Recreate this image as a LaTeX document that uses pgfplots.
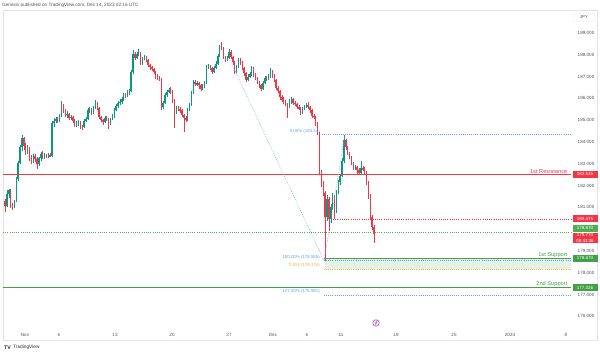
\documentclass[border=0pt]{standalone}
\usepackage{pgfplots}
\pgfplotsset{compat=1.18}
\usepackage{pgfplotstable}
\usepackage{fontspec}
\setmainfont{Liberation Sans}
\definecolor{upc}{HTML}{089981}
\definecolor{dnc}{HTML}{F23645}
\definecolor{resc}{HTML}{F23645}
\definecolor{supc}{HTML}{43A047}
\definecolor{grnbox}{HTML}{4CAF50}
\definecolor{fibc}{HTML}{5FA2F2}
\definecolor{orac}{HTML}{F2B33D}
\definecolor{shade}{HTML}{E3F2E4}
\definecolor{axtxt}{HTML}{50535E}
\definecolor{framec}{HTML}{E0E3EB}
\definecolor{evt}{HTML}{AB47BC}

\pgfplotstableread{
n o h l c
0 181.30 181.40 180.80 181.05
1 181.05 181.80 181.00 181.60
2 181.60 181.85 181.45 181.80
3 181.80 181.85 180.95 181.05
4 181.05 181.20 180.90 181.00
5 181.00 181.35 180.95 181.30
6 181.30 182.40 181.25 182.30
7 182.30 183.15 182.20 183.05
8 183.05 183.85 183.00 183.75
9 183.75 184.30 183.60 184.20
10 184.20 184.25 183.65 183.80
11 183.80 183.95 183.40 183.55
12 183.55 183.85 183.45 183.70
13 183.70 183.75 183.15 183.25
14 183.25 183.40 183.00 183.15
15 183.15 183.45 183.05 183.35
16 183.35 183.45 183.10 183.20
17 183.20 183.30 182.75 183.00
18 183.00 183.30 182.90 183.25
19 183.25 183.55 183.15 183.45
20 183.45 183.60 183.20 183.30
21 183.30 183.50 183.20 183.40
22 183.40 183.45 183.25 183.30
23 183.30 183.50 183.25 183.40
24 183.40 183.50 183.30 183.35
25 183.35 184.95 183.30 184.85
26 184.85 185.10 184.70 184.95
27 184.95 185.15 184.85 185.05
28 185.05 185.15 184.85 184.95
29 184.95 185.30 184.90 185.20
30 185.20 185.90 185.15 185.60
31 185.60 185.75 185.35 185.45
32 185.45 185.50 185.15 185.25
33 185.25 185.40 185.10 185.30
34 185.30 185.35 185.00 185.10
35 185.10 185.25 185.00 185.15
36 185.15 185.20 184.85 184.95
37 184.95 185.05 184.70 184.80
38 184.80 184.95 184.70 184.85
39 184.85 185.00 184.75 184.90
40 184.90 184.95 184.60 184.75
41 184.75 184.80 184.55 184.70
42 184.70 185.05 184.65 184.95
43 184.95 185.15 184.90 185.05
44 185.05 185.55 185.00 185.45
45 185.45 185.60 185.35 185.50
46 185.50 185.55 185.25 185.35
47 185.35 185.65 185.30 185.55
48 185.55 185.95 185.50 185.80
49 185.80 185.85 185.45 185.55
50 185.55 185.60 185.05 185.15
51 185.15 185.20 184.90 185.00
52 185.00 185.05 184.80 184.90
53 184.90 185.20 184.85 185.10
54 185.10 185.20 184.95 185.05
55 185.05 185.10 184.60 184.90
56 184.90 185.10 184.80 185.05
57 185.05 185.30 185.00 185.20
58 185.20 185.55 185.10 185.45
59 185.45 185.75 185.40 185.65
60 185.65 185.90 185.55 185.80
61 185.80 185.95 185.70 185.85
62 185.85 186.05 185.75 185.95
63 185.95 186.25 185.90 186.15
64 186.15 186.25 186.00 186.10
65 186.10 186.40 186.05 186.30
66 186.30 186.45 186.15 186.35
67 186.35 187.30 186.30 187.20
68 187.20 188.20 187.10 188.05
69 188.05 188.15 187.75 187.85
70 187.85 188.15 187.80 188.05
71 188.05 188.25 187.95 188.10
72 188.10 188.15 187.55 187.65
73 187.65 187.90 187.55 187.80
74 187.80 188.00 187.75 187.90
75 187.90 187.95 187.65 187.75
76 187.75 187.80 187.45 187.55
77 187.55 187.60 187.30 187.45
78 187.45 187.50 187.25 187.35
79 187.35 187.40 187.10 187.20
80 187.20 187.25 186.90 187.00
81 187.00 187.10 186.85 186.95
82 186.95 187.05 186.80 186.90
83 186.90 186.95 185.45 185.60
84 185.60 185.90 185.50 185.80
85 185.80 186.25 185.75 186.15
86 186.15 186.40 186.05 186.30
87 186.30 186.50 186.25 186.40
88 186.40 186.50 186.20 186.35
89 186.35 186.40 185.80 185.90
90 185.90 185.95 184.65 185.40
91 185.40 185.65 185.30 185.55
92 185.55 185.65 185.40 185.50
93 185.50 185.60 185.35 185.45
94 185.45 185.50 185.15 185.25
95 185.25 185.30 184.45 185.10
96 185.10 185.20 184.90 185.00
97 185.00 185.55 184.95 185.45
98 185.45 185.80 185.40 185.70
99 185.70 186.35 185.65 186.25
100 186.25 186.85 186.20 186.75
101 186.75 186.85 186.55 186.65
102 186.65 186.80 186.55 186.70
103 186.70 186.75 186.45 186.60
104 186.60 186.65 186.35 186.45
105 186.45 186.65 186.40 186.55
106 186.55 186.80 186.50 186.70
107 186.70 187.55 186.65 187.45
108 187.45 187.60 187.35 187.50
109 187.50 187.55 187.30 187.40
110 187.40 187.45 187.10 187.20
111 187.20 187.50 187.15 187.40
112 187.40 187.70 187.35 187.60
113 187.60 188.05 187.55 187.95
114 187.95 188.45 187.90 188.40
115 188.40 188.60 188.20 188.30
116 188.30 188.35 187.80 187.90
117 187.90 187.95 187.65 187.75
118 187.75 187.95 187.70 187.85
119 187.85 188.25 187.80 188.15
120 188.15 188.20 187.80 187.90
121 187.90 187.95 187.55 187.65
122 187.65 187.70 187.10 187.20
123 187.20 187.55 187.15 187.45
124 187.45 187.85 187.40 187.75
125 187.75 187.85 187.55 187.65
126 187.65 187.70 187.30 187.40
127 187.40 187.45 187.05 187.15
128 187.15 187.20 186.75 186.85
129 186.85 187.10 186.80 187.00
130 187.00 187.20 186.95 187.10
131 187.10 187.50 187.05 187.40
132 187.40 187.45 187.00 187.10
133 187.10 187.15 186.85 186.95
134 186.95 187.00 186.65 186.75
135 186.75 186.80 186.50 186.60
136 186.60 186.65 186.35 186.45
137 186.45 186.80 186.40 186.70
138 186.70 187.05 186.65 186.95
139 186.95 187.05 186.80 186.90
140 186.90 187.10 186.85 187.00
141 187.00 187.40 186.95 187.20
142 187.20 187.30 186.95 187.05
143 187.05 187.10 186.75 186.85
144 186.85 186.90 186.40 186.50
145 186.50 186.55 186.25 186.35
146 186.35 186.40 185.95 186.05
147 186.05 186.15 185.85 185.95
148 185.95 186.05 185.75 185.85
149 185.85 185.95 185.65 185.75
150 185.75 185.80 185.10 185.60
151 185.60 185.95 185.55 185.85
152 185.85 186.05 185.75 185.95
153 185.95 186.00 185.70 185.80
154 185.80 185.90 185.65 185.75
155 185.75 185.80 185.50 185.60
156 185.60 185.70 185.45 185.55
157 185.55 185.60 185.25 185.35
158 185.35 185.60 185.30 185.50
159 185.50 185.70 185.45 185.60
160 185.60 185.80 185.55 185.70
161 185.70 185.85 185.50 185.60
162 185.60 185.65 185.35 185.45
163 185.45 185.50 185.10 185.20
164 185.20 185.30 185.05 185.15
165 185.15 185.20 184.75 184.85
166 184.85 184.90 184.30 184.40
167 184.40 184.45 182.50 182.60
168 182.60 182.70 181.95 182.10
169 182.10 182.20 181.50 181.65
170 181.65 181.75 178.555 180.55
171 180.55 181.55 180.40 181.40
172 181.40 181.50 179.90 180.45
173 180.45 181.15 180.30 181.00
174 181.00 181.65 180.90 181.50
175 181.50 181.55 180.45 180.85
176 180.85 181.80 180.75 181.70
177 181.70 182.25 181.60 182.15
178 182.15 182.55 182.05 182.45
179 182.45 183.25 182.40 183.15
180 183.15 184.34 183.05 184.10
181 184.10 184.15 183.65 183.75
182 183.75 183.80 183.40 183.50
183 183.50 183.55 183.20 183.30
184 183.30 183.35 182.95 183.05
185 183.05 183.10 182.70 182.80
186 182.80 182.95 182.70 182.85
187 182.85 182.90 182.55 182.70
188 182.70 182.80 182.50 182.60
189 182.60 183.15 182.55 182.80
190 182.80 182.90 182.65 182.75
191 182.75 182.85 182.50 182.60
192 182.60 182.65 182.05 182.15
193 182.15 182.20 181.40 181.50
194 181.50 181.60 180.45 180.55
195 180.55 180.65 179.95 180.10
196 180.10 180.20 179.37 179.77
}\candles

\begin{document}
\begin{tikzpicture}[x=1bp,y=1bp]
\useasboundingbox (0,0) rectangle (600,354);
\fill[white] (0,0) rectangle (600,354);
\draw[framec, line width=0.5bp] (3,14) rectangle (597,344);
\node[anchor=west, inner sep=0, font=\fontsize{4.7}{5}\selectfont, text=axtxt] at (2,348.7) {Genesiv published on TradingView.com, Dec 14, 2023 02:16 UTC};
\node[anchor=west, inner sep=0, font=\fontsize{5.2}{6}\selectfont\bfseries, text=black!85] at (4,6.5) {TV};
\node[anchor=west, inner sep=0, font=\fontsize{4.8}{6}\selectfont, text=black!80] at (13,6.5) {TradingView};

\begin{axis}[at={(3bp,24bp)}, anchor=south west, scale only axis,
  width=569bp, height=320bp,
  xmin=3, xmax=572, ymin=175.376, ymax=190.055, clip=false,
  axis line style={draw=none}, tick style={draw=none},
  xtick={25,59,115,172,229,273,307,341,396,454,510,566},
  xticklabels={Nov,6,13,20,27,Dec,6,11,18,25,2024,8},
  xticklabel style={anchor=center, yshift=-5bp, font=\fontsize{4.6}{5}\selectfont, text=axtxt},
  ytick={176,177,178,179,181,182,183,184,185,186,187,188,189},
  yticklabels={176.000,177.000,178.000,179.000,181.000,182.000,183.000,184.000,185.000,186.000,187.000,188.000,189.000},
  yticklabel pos=right,
  yticklabel style={anchor=center, xshift=14bp, font=\fontsize{4.6}{5}\selectfont, text=axtxt},
]
% support zone shading
\addplot[fill=shade, draw=none, forget plot] coordinates {(325,178.670) (571,178.670) (571,178.176) (325,178.176)};

% candles: wicks
\addplot[draw=none, mark=none, forget plot,
  restrict expr to domain={\thisrow{c}-\thisrow{o}}{0:100},
  error bars/.cd, y dir=both, y explicit, error mark=none,
  error bar style={draw=upc, solid, line width=0.5bp}]
  table[x expr={5+1.883*\thisrow{n}}, y expr={(\thisrow{h}+\thisrow{l})/2},
        y error expr={(\thisrow{h}-\thisrow{l})/2}] {\candles};
\addplot[draw=none, mark=none, forget plot,
  restrict expr to domain={\thisrow{c}-\thisrow{o}}{-100:-0.0001},
  error bars/.cd, y dir=both, y explicit, error mark=none,
  error bar style={draw=dnc, solid, line width=0.5bp}]
  table[x expr={5+1.883*\thisrow{n}}, y expr={(\thisrow{h}+\thisrow{l})/2},
        y error expr={(\thisrow{h}-\thisrow{l})/2}] {\candles};
% candles: bodies
\addplot[draw=none, mark=none, forget plot,
  restrict expr to domain={\thisrow{c}-\thisrow{o}}{0:100},
  error bars/.cd, y dir=both, y explicit, error mark=none,
  error bar style={draw=upc, solid, line width=1.4bp}]
  table[x expr={5+1.883*\thisrow{n}}, y expr={(\thisrow{o}+\thisrow{c})/2},
        y error expr={max(abs(\thisrow{c}-\thisrow{o})/2,0.015)}] {\candles};
\addplot[draw=none, mark=none, forget plot,
  restrict expr to domain={\thisrow{c}-\thisrow{o}}{-100:-0.0001},
  error bars/.cd, y dir=both, y explicit, error mark=none,
  error bar style={draw=dnc, solid, line width=1.4bp}]
  table[x expr={5+1.883*\thisrow{n}}, y expr={(\thisrow{o}+\thisrow{c})/2},
        y error expr={max(abs(\thisrow{c}-\thisrow{o})/2,0.015)}] {\candles};

% levels
\addplot[resc, line width=1.2bp] coordinates {(3,182.515) (571,182.515)};
\addplot[dnc, line width=0.6bp, dash pattern=on 0.9bp off 1.3bp] coordinates {(333,180.475) (571,180.475)};
\addplot[grnbox, line width=0.6bp, dash pattern=on 0.9bp off 1.3bp] coordinates {(3,179.870) (571,179.870)};
\addplot[supc, line width=1.2bp] coordinates {(324,178.670) (571,178.670)};
\addplot[fibc, line width=0.5bp, dash pattern=on 0.8bp off 1.3bp] coordinates {(324,178.555) (571,178.555)};
\addplot[orac, line width=0.5bp, dash pattern=on 0.8bp off 1.3bp] coordinates {(324,178.176) (571,178.176)};
\addplot[supc, line width=1.2bp] coordinates {(3,177.326) (571,177.326)};
\addplot[fibc, line width=0.5bp, dash pattern=on 0.8bp off 1.3bp] coordinates {(324,176.981) (571,176.981)};
\addplot[fibc, line width=0.5bp, dash pattern=on 0.8bp off 1.3bp] coordinates {(322,184.340) (571,184.340)};
% fib trend lines
\addplot[fibc, line width=0.5bp, dash pattern=on 0.8bp off 1.3bp] coordinates {(230,187.76) (324,178.555) (345,184.34)};

% level texts
\node[anchor=south east, inner sep=0.5bp, font=\fontsize{5.7}{6}\selectfont, text=resc] at (axis cs:568,182.515) {1st Resistance};
\node[anchor=south east, inner sep=0.5bp, font=\fontsize{5.7}{6}\selectfont, text=supc] at (axis cs:568,178.670) {1st Support};
\node[anchor=south east, inner sep=0.5bp, font=\fontsize{5.7}{6}\selectfont, text=supc] at (axis cs:568,177.326) {2nd Support};
\node[anchor=east, inner sep=0, font=\fontsize{4.4}{5}\selectfont, text=fibc] at ([yshift=3.5bp]axis cs:320,184.340) {0.00\% (184.34)};
\node[anchor=east, inner sep=0, font=\fontsize{4.4}{5}\selectfont, text=fibc] at ([yshift=3.6bp]axis cs:320,178.555) {100.00\% (178.555)};
\node[anchor=east, inner sep=0, font=\fontsize{4.4}{5}\selectfont, text=orac] at ([yshift=3.6bp]axis cs:320,178.176) {0.618 (178.176)};
\node[anchor=east, inner sep=0, font=\fontsize{4.4}{5}\selectfont, text=fibc] at ([yshift=3.4bp]axis cs:320,176.981) {127.20\% (176.981)};

% price boxes
\node[fill=resc, text=white, inner sep=0, minimum width=25bp, minimum height=7bp, font=\fontsize{4.5}{5}\selectfont] at (axis cs:585,182.515) {182.515};
\node[fill=dnc, text=white, inner sep=0, minimum width=25bp, minimum height=7bp, font=\fontsize{4.5}{5}\selectfont] at (axis cs:585,180.475) {180.475};
\node[fill=grnbox, text=white, inner sep=0, minimum width=25bp, minimum height=7bp, font=\fontsize{4.5}{5}\selectfont] at (axis cs:585,180.055) {179.870};
\node[fill=dnc, text=white, inner sep=0.6bp, minimum width=25bp, align=center, font=\fontsize{4.5}{5.3}\selectfont] at (axis cs:585,179.60) {179.770\\00:43:36};
\node[fill=supc, text=white, inner sep=0, minimum width=25bp, minimum height=7bp, font=\fontsize{4.5}{5}\selectfont] at (axis cs:585,178.670) {178.670};
\node[fill=supc, text=white, inner sep=0, minimum width=25bp, minimum height=7bp, font=\fontsize{4.5}{5}\selectfont] at (axis cs:585,177.326) {177.326};
\node[draw=framec, fill=white, rounded corners=1bp, text=axtxt, inner sep=0, minimum width=21bp, minimum height=8bp, font=\fontsize{4.3}{5}\selectfont] at (axis cs:584,189.72) {JPY};

% event marker
\node[circle, draw=evt, fill=evt!8, line width=0.5bp, minimum size=6.5bp, inner sep=0] at (axis cs:376,175.70) {};
\draw[evt, line width=0.4bp] (axis cs:376.8,175.82) -- (axis cs:375.4,175.69) -- (axis cs:376.6,175.71) -- (axis cs:375.2,175.58);
\end{axis}
\end{tikzpicture}
\end{document}
